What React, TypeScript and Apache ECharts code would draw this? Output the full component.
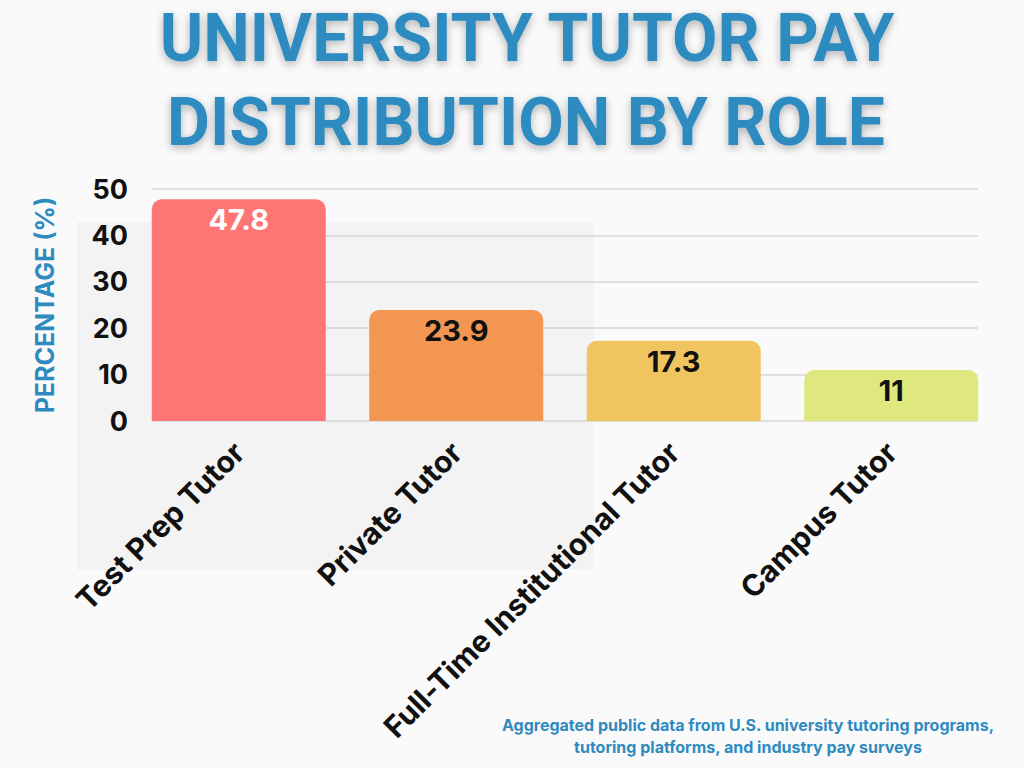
import React, { useEffect, useRef } from "react";
import * as echarts from "echarts";

const categories = ["Test Prep Tutor", "Private Tutor", "Full-Time Institutional Tutor", "Campus Tutor"];
const values = [47.8, 23.9, 17.3, 11];
const barColors = ["#ff7575", "#f29651", "#f0c55f", "#dfe87f"];
const labelColors = ["#ffffff", "#111111", "#111111", "#111111"];
const titleLines = ["UNIVERSITY TUTOR PAY", "DISTRIBUTION BY ROLE"];
const yAxisName = "PERCENTAGE (%)";
const footnote = "Aggregated public data from U.S. university tutoring programs,\ntutoring platforms, and industry pay surveys";

export default function App() {
  const ref = useRef<HTMLDivElement>(null);
  useEffect(() => {
    if (!ref.current) return;
    const chart = echarts.init(ref.current, null, { renderer: "svg" });
    const titleStyle = {
      fill: "#2e8bc0",
      font: "700 66px Roboto",
      align: "center",
      verticalAlign: "middle",
      textShadowColor: "rgba(0,0,0,0.3)",
      textShadowBlur: 8,
      textShadowOffsetY: 3,
    };
    chart.setOption({
      animation: false,
      backgroundColor: "#fafafa",
      graphic: [
        {
          type: "rect",
          z: -10,
          shape: { x: 77, y: 222, width: 517, height: 348 },
          style: { fill: "#f3f3f3" },
        },
        { type: "text", x: 527, y: 38, style: { ...titleStyle, text: titleLines[0] } },
        { type: "text", x: 526, y: 122, style: { ...titleStyle, text: titleLines[1] } },
        {
          type: "text",
          x: 748,
          y: 714,
          style: {
            text: footnote,
            fill: "#2e8bc0",
            font: "700 16px Inter",
            align: "center",
            lineHeight: 22,
          },
        },
      ],
      grid: [
        { left: 152, right: 46, top: 189, height: 232 },
        { left: 130, right: 24, top: 189, height: 232 },
      ],
      xAxis: [
        { type: "category", gridIndex: 0, show: false, data: [] },
        {
          type: "category",
          gridIndex: 1,
          data: categories,
          axisLine: { show: false },
          axisTick: { show: false },
          axisLabel: {
            interval: 0,
            rotate: 45,
            margin: 26,
            color: "#111111",
            fontFamily: "Inter",
            fontWeight: 700,
            fontSize: 30,
          },
        },
      ],
      yAxis: [
        {
          type: "value",
          gridIndex: 0,
          min: 0,
          max: 50,
          interval: 10,
          name: yAxisName,
          nameLocation: "middle",
          nameRotate: 90,
          nameGap: 95,
          nameTextStyle: {
            color: "#2e8bc0",
            fontFamily: "Inter",
            fontWeight: 700,
            fontSize: 25,
          },
          axisLine: { show: false },
          axisTick: { show: false },
          axisLabel: {
            margin: 24,
            color: "#111111",
            fontFamily: "Inter",
            fontWeight: 700,
            fontSize: 27,
          },
          splitLine: { lineStyle: { color: "#d6d6d6", width: 1.5 } },
        },
        { type: "value", gridIndex: 1, min: 0, max: 50, show: false },
      ],
      series: [
        {
          type: "bar",
          xAxisIndex: 1,
          yAxisIndex: 1,
          barWidth: 174,
          data: values.map((v, i) => ({
            value: v,
            itemStyle: { color: barColors[i], borderRadius: [10, 10, 0, 0] },
            label: { color: labelColors[i] },
          })),
          label: {
            show: true,
            position: "insideTop",
            distance: 6,
            fontFamily: "Inter",
            fontWeight: 700,
            fontSize: 29,
          },
        },
      ],
    });
    return () => chart.dispose();
  }, []);
  return <div ref={ref} style={{ position: "fixed", left: 0, top: 0, width: 1024, height: 768 }} />;
}
